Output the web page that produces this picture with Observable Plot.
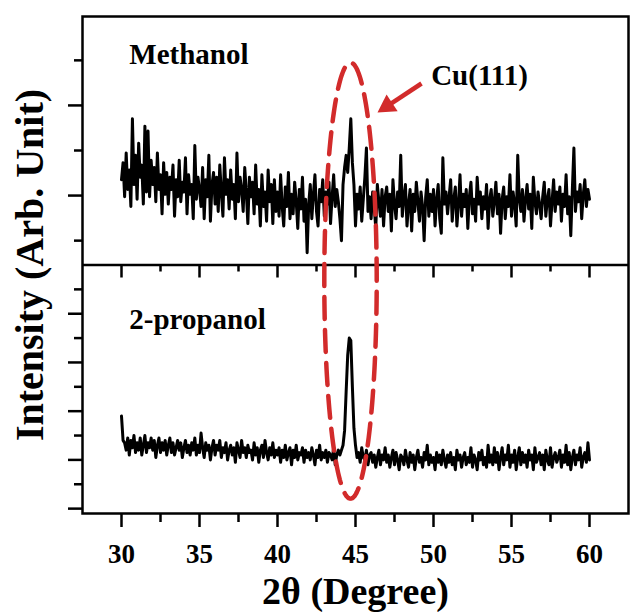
<!DOCTYPE html>
<html><head><meta charset="utf-8">
<script src="https://cdn.jsdelivr.net/npm/d3@7"></script>
<script src="https://cdn.jsdelivr.net/npm/@observablehq/plot@0.6"></script>
<style>
html,body{margin:0;padding:0;background:#fff;}
svg{display:block}
</style></head><body><div id="chart"></div>
<script>
// XRD scans, 2θ from 30° to 60° in 0.1° steps (stacked, arbitrary units)
const scanStart = 30, scanStep = 0.1;
const methanol = [
135,142,128,146,131,139,124,160,133,145,
127,150,136,141,125,157,130,155,128,143,
133,140,126,146,131,137,121,142,129,138,
125,136,131,141,120,135,128,143,126,134,
130,144,121,137,129,133,119,149,127,136,
131,124,140,119,135,128,145,118,133,138,
125,136,122,141,130,120,144,129,135,123,
139,127,133,119,146,126,136,131,122,140,
130,117,136,128,134,121,141,125,131,116,
137,124,130,118,139,126,133,117,135,122,
130,120,137,124,116,132,124,138,119,129,
121,134,126,115,131,123,136,118,127,105,
125,133,119,129,137,122,116,131,126,135,
120,130,125,134,117,128,137,124,131,126,
119,110,133,140,145,138,148,160,142,133,
116,129,123,132,118,127,136,148,122,128,
119,130,124,115,133,126,120,131,116,128,
132,122,129,114,135,125,119,130,124,145,
120,128,133,116,125,131,114,129,122,134,
126,118,130,124,110,128,135,120,129,122,
131,116,127,133,119,113,144,125,130,121,
128,135,118,127,132,116,125,137,120,129,
124,131,115,128,134,121,127,118,136,125,
130,119,128,123,133,115,127,131,120,126,
134,121,129,113,127,132,119,128,124,137,
120,130,125,116,145,127,122,131,118,127,
133,123,129,115,136,126,121,130,125,119,
128,134,120,127,131,116,126,135,122,130,
125,132,118,129,124,137,121,128,112,131,
148,122,130,126,133,119,129,135,124,131,
127];
const propanol = [
38,28,27,24,29,22,28,25,30,23,
27,24,29,22,26,30,23,27,25,29,
24,28,21,26,29,23,27,24,28,22,
26,29,23,27,22,25,28,24,27,21,
25,28,23,26,22,27,24,29,22,26,
23,31,25,21,27,24,26,20,25,28,
22,26,24,28,21,25,23,27,20,24,
26,22,25,19,27,24,21,28,23,25,
21,26,23,24,20,27,22,25,19,24,
26,21,28,23,20,25,22,27,21,24,
22,25,19,24,21,26,20,23,25,18,
24,21,26,20,23,22,25,19,24,21,
23,20,25,22,18,24,21,26,20,23,
21,24,19,23,22,20,25,18,22,24,
22,24,26,32,48,63,70,69,50,33,
26,21,23,19,25,21,20,24,18,22,
23,19,22,17,21,24,18,22,20,25,
19,22,17,21,24,18,23,20,16,22,
21,18,24,20,17,23,19,22,16,21,
24,19,21,17,23,20,26,18,22,19,
21,16,23,19,22,18,24,20,17,22,
19,23,18,21,16,24,20,22,17,21,
23,18,21,19,25,17,22,20,16,23,
20,24,18,21,17,26,19,22,18,25,
19,23,16,21,25,18,22,20,26,17,
22,19,24,16,21,25,18,23,19,22,
17,24,20,22,16,25,19,21,23,18,
22,16,24,20,18,25,17,21,23,19,
21,24,17,22,19,26,18,23,16,21,
24,18,22,20,25,17,21,23,19,27,
20];
const seriesNames = ["Methanol", "2-propanol"];
const xMajorTicks = [30, 35, 40, 45, 50, 55, 60];
const xMinorTicks = [32.5, 37.5, 42.5, 47.5, 52.5, 57.5];
const yLongTicks = [0, 20, 40, 60, 80, 128.5, 165.5];
const yShortTicks = [10, 30, 50, 70, 90, 110, 147, 184];
const panelDivider = [100];

// layout
const W = 632, H = 612, mL = 82, mR = 4, mT = 16, mB = 99;
const xDomain = [27.5, 62.5], yDomain = [-2, 202];
const pxX = (W - mL - mR) / (xDomain[1] - xDomain[0]);
const pxY = (H - mT - mB) / (yDomain[1] - yDomain[0]);
const red = "#d22b2b";
const font = "'Liberation Serif','Times New Roman',Times,serif";

const series = [
  ...methanol.map((v, i) => ({x: scanStart + i * scanStep, y: v, s: seriesNames[0]})),
  ...propanol.map((v, i) => ({x: scanStart + i * scanStep, y: v, s: seriesNames[1]}))
];

// annotations
const panelLabels = [
  {x: 30.5, y: 182.7, text: "Methanol"},
  {x: 30.5, y: 73.9, text: "2-propanol"},
  {x: 49.85, y: 173.7, text: "Cu(111)"}
];
const ell = {cx: 44.68, cy: 93.6, rx: 1.68, ry: 89.5};
const ellipsePts = d3.range(0, 360, 2).map(a => ({
  x: ell.cx + ell.rx * Math.cos(a * Math.PI / 180),
  y: ell.cy + ell.ry * Math.sin(a * Math.PI / 180)
}));
const arrowFrom = {x: 49.23, y: 174.5}, arrowTip = {x: 46.41, y: 162.6};
const dpx = (arrowTip.x - arrowFrom.x) * pxX, dpy = -(arrowTip.y - arrowFrom.y) * pxY;
const len = Math.hypot(dpx, dpy), ux = dpx / len, uy = dpy / len;
const headR = 7.5;
const headBack = 2 * Math.sqrt(headR * headR * Math.PI / (Math.sqrt(3) * 3));
const head = {x: arrowTip.x - headBack * ux / pxX, y: arrowTip.y + headBack * uy / pxY,
  rot: Math.atan2(ux, -uy) * 180 / Math.PI};

const plot = Plot.plot({
  width: W, height: H, marginLeft: mL, marginRight: mR, marginTop: mT, marginBottom: mB,
  style: {fontFamily: font, background: "#fff", color: "#000", overflow: "visible"},
  x: {domain: xDomain},
  y: {domain: yDomain},
  marks: [
    Plot.line(series, {x: "x", y: "y", z: "s", stroke: "#000", strokeWidth: 3}),
    Plot.frame({stroke: "#000", strokeWidth: 2.5}),
    Plot.ruleY(panelDivider, {stroke: "#000", strokeWidth: 2.5}),
    Plot.ruleX(xMajorTicks, {x: d => d, y1: panelDivider[0], y2: panelDivider[0] - 13 / pxY, stroke: "#000", strokeWidth: 2.5}),
    Plot.ruleX(xMinorTicks, {x: d => d, y1: panelDivider[0], y2: panelDivider[0] - 7 / pxY, stroke: "#000", strokeWidth: 2.5}),
    Plot.axisX({ticks: xMajorTicks, tickSize: 14, tickPadding: 16, tickFormat: d => String(d),
      fontSize: 27, fontWeight: "bold", strokeWidth: 2.5, label: null}),
    Plot.axisX({ticks: xMinorTicks, tickSize: 9, fill: "none", strokeWidth: 2.5, label: null}),
    Plot.axisY({ticks: yLongTicks, tickSize: 14, fill: "none", strokeWidth: 2.5, label: null}),
    Plot.axisY({ticks: yShortTicks, tickSize: 8, fill: "none", strokeWidth: 2.5, label: null}),
    Plot.line(ellipsePts, {x: "x", y: "y", curve: "linear-closed", stroke: red, strokeWidth: 4.5, strokeDasharray: "22,11"}),
    Plot.link([arrowFrom], {x1: "x", y1: "y", x2: () => head.x, y2: () => head.y, stroke: red, strokeWidth: 4.5}),
    Plot.dot([head], {x: "x", y: "y", symbol: "triangle", r: headR, fill: red, stroke: "none", rotate: "rot"}),
    Plot.text(panelLabels, {x: "x", y: "y", text: "text", textAnchor: "start", lineAnchor: "bottom",
      fontSize: 29, fontWeight: "bold", fill: "#000"}),
    Plot.text(["Intensity (Arb. Unit)"], {frameAnchor: "left", rotate: -90, dx: -52, textAnchor: "middle", lineAnchor: "middle",
      fontSize: 40, fontWeight: "bold", fill: "#000"}),
    Plot.text(["2θ (Degree)"], {frameAnchor: "bottom", dy: 90, textAnchor: "middle", lineAnchor: "bottom",
      fontSize: 38, fontWeight: "bold", fill: "#000"})
  ]
});
document.getElementById("chart").appendChild(plot);
</script></body></html>
